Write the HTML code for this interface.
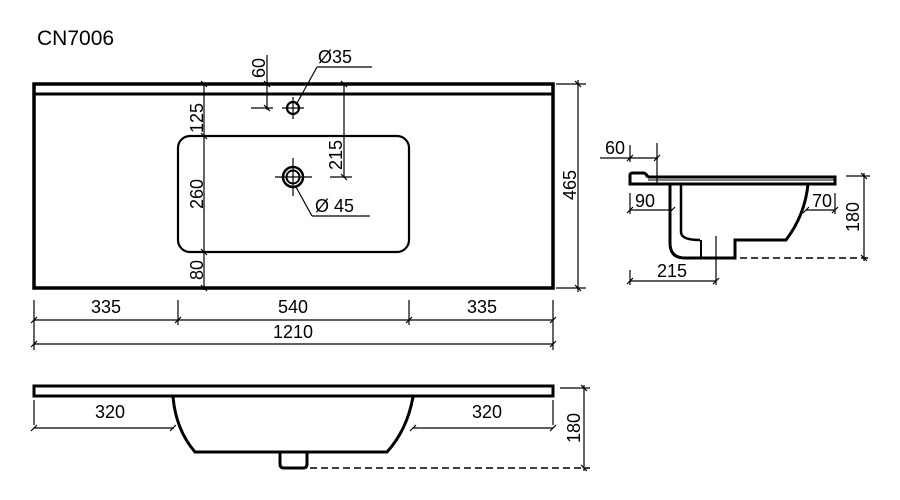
<!DOCTYPE html>
<html><head><meta charset="utf-8"><style>
html,body{margin:0;padding:0;background:#fff}
svg{display:block}
text{font-family:"Liberation Sans","DejaVu Sans",sans-serif;font-size:18px;fill:#000}
</style></head><body>
<svg width="900" height="500" viewBox="0 0 900 500" xmlns="http://www.w3.org/2000/svg">
<text x="37" y="45" style="font-size:21px">CN7006</text>
<g fill="none" stroke="#000">
<rect x="34" y="84" width="519" height="204" stroke-width="3.5"/>
<line x1="34" y1="94" x2="553" y2="94" stroke-width="3"/>
<rect x="178" y="136" width="231" height="116" rx="12" stroke-width="2.2"/>
<g stroke-width="1.2">
<line x1="204" y1="84" x2="204" y2="290"/>
<line x1="201" y1="81" x2="207" y2="87"/><line x1="201" y1="133" x2="207" y2="139"/><line x1="201" y1="249" x2="207" y2="255"/><line x1="201" y1="285" x2="207" y2="291"/>
<line x1="267" y1="55" x2="267" y2="110"/><line x1="251" y1="108" x2="273" y2="108"/>
<line x1="264" y1="105" x2="270" y2="111"/><line x1="264" y1="81" x2="270" y2="87"/>
<line x1="282" y1="108" x2="304" y2="108"/><line x1="293" y1="97" x2="293" y2="119"/>
<line x1="296" y1="105" x2="317" y2="67"/><line x1="317" y1="67" x2="372" y2="67"/>
<line x1="344" y1="84" x2="344" y2="177"/><line x1="330" y1="177" x2="352" y2="177"/>
<line x1="341" y1="174" x2="347" y2="180"/><line x1="341" y1="81" x2="347" y2="87"/>
<line x1="275" y1="177" x2="312" y2="177"/><line x1="293" y1="158" x2="293" y2="196"/>
<line x1="296" y1="187" x2="312" y2="216"/><line x1="312" y1="216" x2="370" y2="216"/>
<line x1="556" y1="84" x2="586" y2="84"/><line x1="556" y1="288" x2="586" y2="288"/>
<line x1="578" y1="80" x2="578" y2="292"/>
<line x1="575" y1="81" x2="581" y2="87"/><line x1="575" y1="285" x2="581" y2="291"/>
<line x1="34" y1="300" x2="34" y2="350"/><line x1="553" y1="300" x2="553" y2="350"/>
<line x1="178" y1="300" x2="178" y2="325"/><line x1="409" y1="300" x2="409" y2="325"/>
<line x1="34" y1="320" x2="553" y2="320"/><line x1="34" y1="344" x2="553" y2="344"/>
<line x1="31" y1="323" x2="37" y2="317"/><line x1="175" y1="323" x2="181" y2="317"/><line x1="406" y1="323" x2="412" y2="317"/><line x1="550" y1="323" x2="556" y2="317"/>
<line x1="31" y1="347" x2="37" y2="341"/><line x1="550" y1="347" x2="556" y2="341"/>
</g>
<circle cx="293" cy="108" r="6" stroke-width="2.2"/>
<circle cx="293" cy="177" r="10" stroke-width="2.5"/>
<circle cx="293" cy="177" r="6.5" stroke-width="2"/>
<rect x="34" y="386" width="519" height="10" stroke-width="3"/>
<path d="M173 397 Q176 430 195 452 L387 452 Q407 430 413 397" stroke-width="3"/>
<path d="M280 452 L280 464 Q280 468 284 468 L303 468 Q307 468 307 464 L307 452" stroke-width="3"/>
<g stroke-width="1.2">
<line x1="34" y1="400" x2="34" y2="425"/><line x1="553" y1="400" x2="553" y2="425"/>
<line x1="34" y1="428" x2="174" y2="428"/><line x1="413" y1="428" x2="553" y2="428"/>
<line x1="31" y1="431" x2="37" y2="425"/><line x1="170" y1="431" x2="176" y2="425"/><line x1="410" y1="431" x2="416" y2="425"/><line x1="550" y1="431" x2="556" y2="425"/>
<line x1="560" y1="388" x2="590" y2="388"/>
<line x1="584" y1="385" x2="584" y2="471"/>
<line x1="581" y1="385" x2="587" y2="391"/><line x1="581" y1="465" x2="587" y2="471"/>
</g>
<line x1="310" y1="468" x2="590" y2="468" stroke-width="1.5" stroke-dasharray="7,4"/>
<path d="M630 183 L630 175 Q630 173 633 173 L643 173 Q646 173 647 176 L649 177 L835 177 L835 184 L630 184 Z" stroke-width="3"/>
<line x1="648" y1="180" x2="835" y2="180" stroke-width="1"/>
<path d="M670 184 L670 243 Q670 258 685 258 L735 258 L735 240 L786 240 Q805 215 808 184" stroke-width="3"/>
<path d="M681 184 L681 232 Q681 240 700 240" stroke-width="2.5"/>
<line x1="701" y1="240" x2="701" y2="258" stroke-width="2"/>
<g stroke-width="1.2">
<line x1="600" y1="158" x2="658" y2="158"/>
<line x1="630" y1="145" x2="630" y2="162"/><line x1="657" y1="143" x2="657" y2="185"/>
<line x1="627" y1="161" x2="633" y2="155"/><line x1="654" y1="161" x2="660" y2="155"/>
<line x1="630" y1="193" x2="630" y2="214"/><line x1="630" y1="210" x2="672" y2="210"/>
<line x1="627" y1="213" x2="633" y2="207"/><line x1="669" y1="213" x2="675" y2="207"/>
<line x1="835" y1="193" x2="835" y2="214"/><line x1="806" y1="210" x2="835" y2="210"/>
<line x1="832" y1="213" x2="838" y2="207"/><line x1="803" y1="213" x2="809" y2="207"/>
<line x1="630" y1="270" x2="630" y2="285"/><line x1="630" y1="281" x2="716" y2="281"/>
<line x1="716" y1="236" x2="716" y2="285"/>
<line x1="627" y1="284" x2="633" y2="278"/><line x1="713" y1="284" x2="719" y2="278"/>
<line x1="846" y1="176" x2="870" y2="176"/>
<line x1="864" y1="173" x2="864" y2="261"/>
<line x1="861" y1="173" x2="867" y2="179"/><line x1="861" y1="255" x2="867" y2="261"/>
</g>
<line x1="740" y1="258" x2="870" y2="258" stroke-width="1.5" stroke-dasharray="7,4"/>
</g>
<text transform="translate(203,118) rotate(-90)" text-anchor="middle">125</text>
<text transform="translate(203,194) rotate(-90)" text-anchor="middle">260</text>
<text transform="translate(203,270) rotate(-90)" text-anchor="middle">80</text>
<text transform="translate(265,68) rotate(-90)" text-anchor="middle">60</text>
<text transform="translate(342,155) rotate(-90)" text-anchor="middle">215</text>
<text x="318" y="63">Ø35</text>
<text x="315" y="212">Ø 45</text>
<text transform="translate(576,185) rotate(-90)" text-anchor="middle">465</text>
<text x="106" y="313" text-anchor="middle">335</text>
<text x="293" y="313" text-anchor="middle">540</text>
<text x="482" y="313" text-anchor="middle">335</text>
<text x="293" y="338" text-anchor="middle">1210</text>
<text x="110" y="418" text-anchor="middle">320</text>
<text x="487" y="418" text-anchor="middle">320</text>
<text transform="translate(580,428) rotate(-90)" text-anchor="middle">180</text>
<text x="615" y="154" text-anchor="middle">60</text>
<text x="645" y="207" text-anchor="middle">90</text>
<text x="822" y="207" text-anchor="middle">70</text>
<text x="672" y="277" text-anchor="middle">215</text>
<text transform="translate(859,217) rotate(-90)" text-anchor="middle">180</text>
</svg>
</body></html>
